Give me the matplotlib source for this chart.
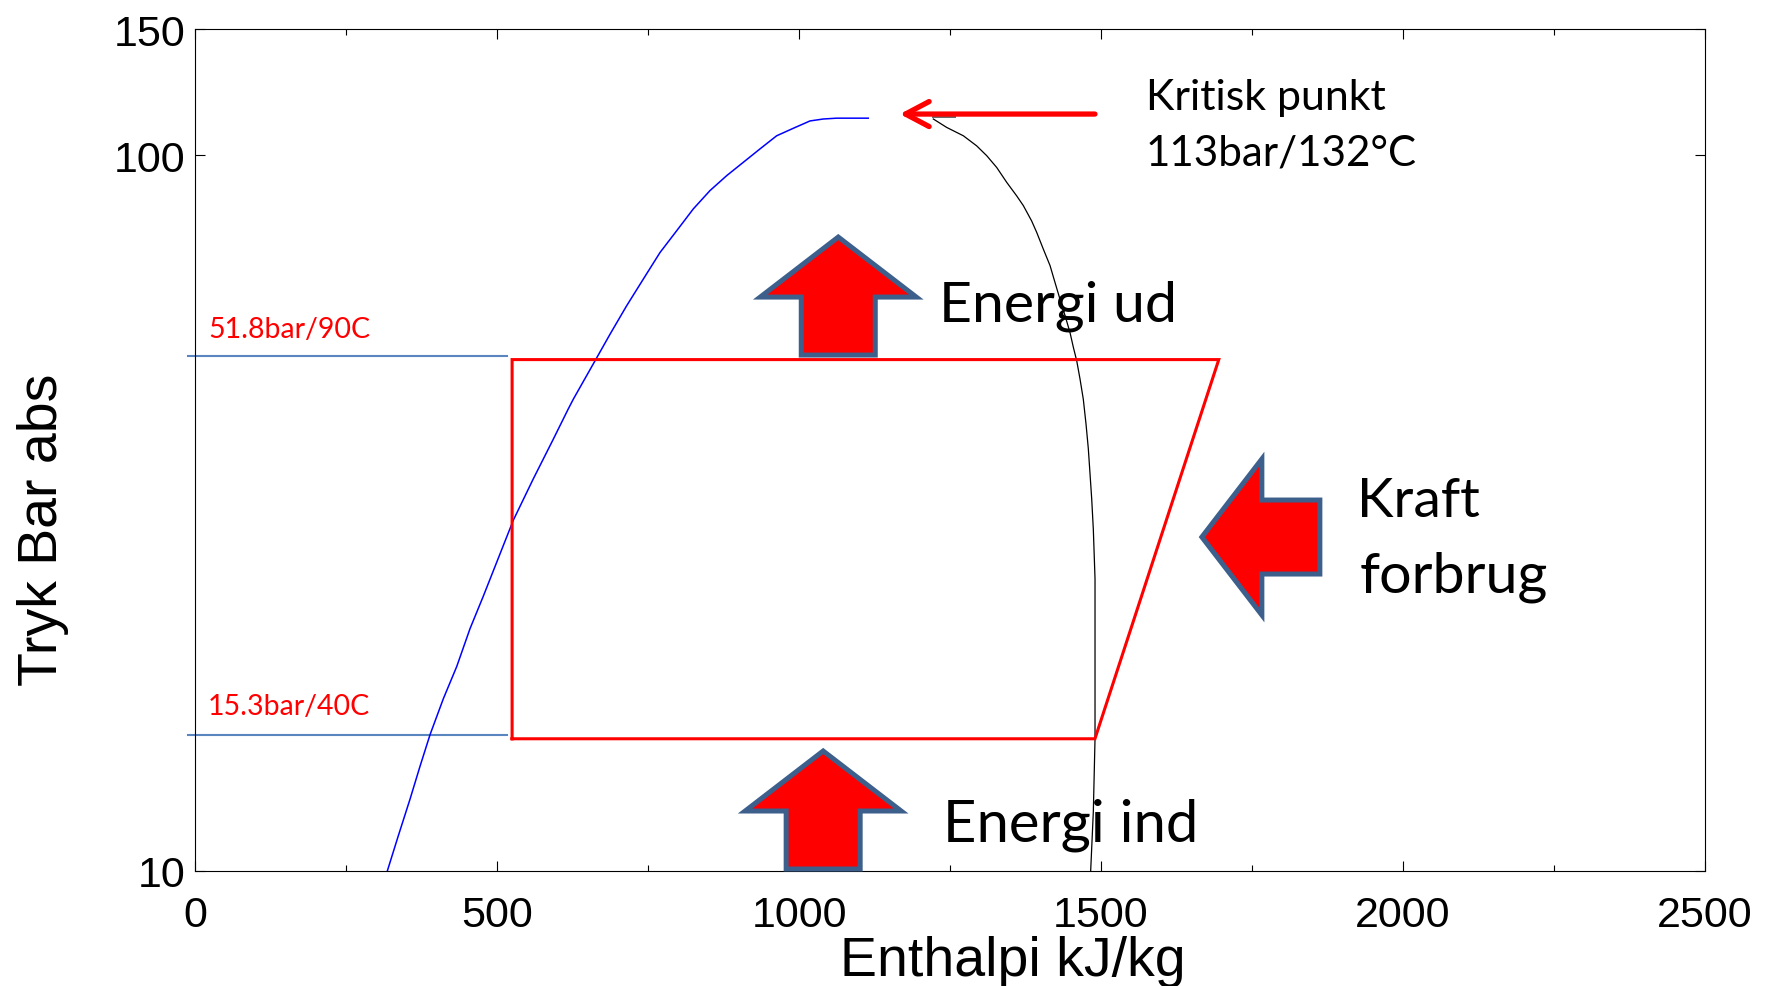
import matplotlib
matplotlib.use("Agg")
import matplotlib.pyplot as plt
from matplotlib.patches import Polygon
from matplotlib.ticker import MultipleLocator, NullLocator, FixedLocator, FixedFormatter

# ---------------- data ----------------
liquid_h = [318.4, 336.6, 356.0, 372.5, 389.1, 411.1, 433.3, 455.3, 477.3, 527.0, 560.1,
            593.2, 618.0, 626.3, 662.3, 687.1, 714.7, 742.2, 769.9, 797.5, 825.0, 852.6, 880.3,
            907.8, 935.4, 963.0, 990.6, 1018.2, 1040.2, 1062.4, 1114.7]
liquid_p = [10.0, 11.2, 12.6, 14.0, 15.5, 17.4, 19.3, 21.8, 24.2, 30.9, 35.3,
            40.1, 44.2, 45.6, 51.6, 56.2, 61.6, 67.1, 73.1, 78.4, 84.1, 89.2, 93.6,
            97.7, 102.0, 106.4, 109.0, 111.6, 112.3, 112.6, 112.6]

vapour_h = [1222.4, 1244.5, 1272.1, 1294.2, 1310.8, 1327.3, 1343.9, 1360.4, 1371.4, 1385.2,
            1393.5, 1404.5, 1415.6, 1423.8, 1432.1, 1440.4, 1448.7, 1454.2, 1459.8, 1465.2,
            1470.7, 1475.2, 1479.0, 1481.8, 1484.6, 1487.3, 1490.1, 1490.1, 1490.1, 1487.3, 1482.9]
vapour_p = [112.3, 109.3, 106.4, 103.0, 99.8, 96.1, 91.6, 87.7, 85.0, 80.9,
            78.0, 73.9, 70.1, 66.4, 62.9, 59.7, 56.5, 53.9, 51.6, 48.7,
            45.6, 42.1, 38.9, 35.9, 33.1, 30.0, 25.6, 19.8, 15.3, 12.1, 10.0]

vapour_stub_h = [1222, 1258]
vapour_stub_p = [112.9, 112.9]

cycle_h = [525, 525, 1695, 1490, 525]
cycle_p = [15.3, 51.8, 51.8, 15.3, 15.3]

level_h = [-12, 516]
level_p_high = 52.4
level_p_low = 15.5
level_labels = ["51.8bar/90C", "15.3bar/40C"]

crit_tail = (1490, 114.1)
crit_tip = (1167, 114.1)

x_ticks = [0, 500, 1000, 1500, 2000, 2500]
y_ticks = [10, 100, 150]
y_tick_labels = ["10", "100", "150"]

# ---------------- figure ----------------
W, H = 1769, 987
DPI = 100
fig = plt.figure(figsize=(W / DPI, H / DPI), dpi=DPI)
fig.patch.set_facecolor("white")

def px_axes(l, t, r, b):
    return [l / W, 1 - b / H, (r - l) / W, (b - t) / H]

ax = fig.add_axes(px_axes(195, 30, 1705, 872))
ax.set_xscale("linear")
ax.set_yscale("log")
ax.set_xlim(0, 2500)
ax.set_ylim(10, 150)

ax.xaxis.set_major_locator(FixedLocator(x_ticks))
ax.xaxis.set_minor_locator(MultipleLocator(250))
ax.yaxis.set_major_locator(FixedLocator(y_ticks))
ax.yaxis.set_major_formatter(FixedFormatter(y_tick_labels))
ax.yaxis.set_minor_locator(NullLocator())

tick_font = "Liberation Sans"
ax.tick_params(which="both", direction="in", top=True, right=True, width=0.8, colors="black")
ax.tick_params(which="major", length=7.5)
ax.tick_params(which="minor", length=4.3)
ax.tick_params(axis="x", which="major", pad=17, labelsize=31)
ax.tick_params(axis="y", which="major", pad=7, labelsize=31)
for lab in ax.get_xticklabels() + ax.get_yticklabels():
    lab.set_fontfamily(tick_font)
for s in ax.spines.values():
    s.set_linewidth(0.8)
    s.set_color("black")

# curves
ax.plot(liquid_h, liquid_p, color="#0000FF", lw=1.1, zorder=3)
ax.plot(vapour_h, vapour_p, color="black", lw=0.9, zorder=3)
ax.plot(vapour_stub_h, vapour_stub_p, color="#666666", lw=1.4, zorder=3)

# level lines (extend a bit outside the axes)
ax.plot(level_h, [level_p_high] * 2, color="#5A86BF", lw=1.5, clip_on=False, zorder=2)
ax.plot(level_h, [level_p_low] * 2, color="#5A86BF", lw=1.5, clip_on=False, zorder=2)

# cycle
ax.plot(cycle_h, cycle_p, color="#FF0000", lw=2.2, zorder=4, solid_joinstyle="miter")

# critical point arrow
ax.annotate("", xy=crit_tip, xytext=crit_tail,
            arrowprops=dict(arrowstyle="->,head_length=0.85,head_width=0.45",
                            color="#FF0000", lw=3.8, shrinkA=0, shrinkB=0,
                            mutation_scale=20))

# ---------------- block arrows (shape in pixels, anchored in data) ----------------
def block_arrow(anchor_data, direction, L=118, HL=60, HW=78, SW=37):
    """anchor is the tip of the arrow in data coordinates."""
    tx, ty = ax.transData.transform(anchor_data)
    if direction == "up":
        pts = [(0, 0), (HW, -HL), (SW, -HL), (SW, -L), (-SW, -L), (-SW, -HL), (-HW, -HL)]
    else:  # left
        pts = [(0, 0), (HL, HW), (HL, SW), (L, SW), (L, -SW), (HL, -SW), (HL, -HW)]
    pts = [(tx + a, ty + b) for a, b in pts]
    poly = Polygon(pts, closed=True, transform=None, facecolor="#FF0000",
                   edgecolor="#3C5F8C", lw=3.6, joinstyle="miter", zorder=6)
    fig.add_artist(poly)

fig.canvas.draw()
block_arrow((1065, 10 ** (1 + (872 - 238) / 716)), "up")      # Energi ud
block_arrow((1040, 10 ** (1 + (872 - 752) / 716)), "up")      # Energi ind
block_arrow((1667, 10 ** (1 + (872 - 538) / 716)), "left")    # Kraft forbrug

# ---------------- texts ----------------
renderer = fig.canvas.get_renderer()

def fit_text(x, y, s, width, family="Lato", color="black", size0=30):
    t = fig.text(x / W, 1 - y / H, s, fontsize=size0, family=family, color=color,
                 ha="left", va="baseline", zorder=7)
    bb = t.get_window_extent(renderer)
    t.set_fontsize(size0 * width / bb.width)
    return t

fit_text(1146, 110, "Kritisk punkt", 240)
fit_text(1146, 166, "113bar/132°C", 271)
fit_text(939, 321, "Energi ud", 238)
fit_text(943, 842, "Energi ind", 255)
fit_text(1357, 517, "Kraft", 123)
fit_text(1360, 593, "forbrug", 188)
fit_text(208, 338, level_labels[0], 162, color="#FF0000")
fit_text(208, 715, level_labels[1], 162, color="#FF0000")

# axis labels
fig.text(1013 / W, 1 - 976 / H, "Enthalpi kJ/kg", fontsize=40, family=tick_font,
         ha="center", va="baseline")
fig.text(57 / W, 1 - 530 / H, "Tryk Bar abs", fontsize=40, family=tick_font,
         ha="center", va="baseline", rotation=90, rotation_mode="anchor")

fig.savefig("out.png", dpi=DPI)
